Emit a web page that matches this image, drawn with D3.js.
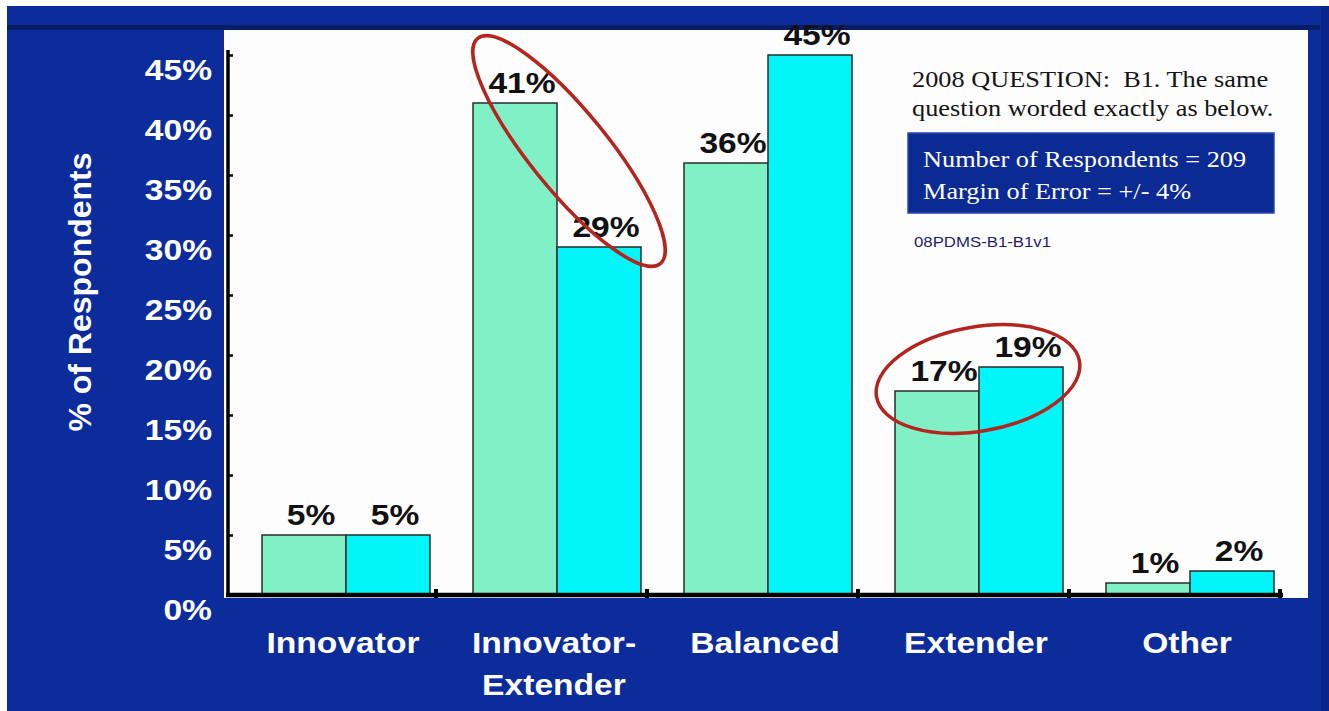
<!DOCTYPE html>
<html>
<head>
<meta charset="utf-8">
<script src="https://cdn.jsdelivr.net/npm/d3@7"></script>
<style>
  html, body { margin: 0; padding: 0; background: #ffffff; overflow: hidden; }
  svg { display: block; }
  text { white-space: pre; }
</style>
</head>
<body>
<svg id="chart" width="1329" height="711"></svg>
<script>
// ---- data -------------------------------------------------------------
const categories = ["Innovator", "Innovator-Extender", "Balanced", "Extender", "Other"];
const categoryLines = [["Innovator"], ["Innovator-", "Extender"], ["Balanced"], ["Extender"], ["Other"]];
const seriesNames = ["previous", "current"];
const previousValues = [5, 41, 36, 17, 1];
const currentValues = [5, 29, 45, 19, 2];
const yTickValues = [0, 5, 10, 15, 20, 25, 30, 35, 40, 45];
const yTickLabels = ["0%", "5%", "10%", "15%", "20%", "25%", "30%", "35%", "40%", "45%"];
const yTitle = "% of Respondents";
const noteLines = ["2008 QUESTION:  B1. The same", "question worded exactly as below."];
const sampleLines = ["Number of Respondents = 209", "Margin of Error = +/- 4%"];
const slideCode = "08PDMS-B1-B1v1";
// highlighted comparisons: centred on a category at a data value
const highlightCategories = ["Innovator-Extender", "Extender"];
const highlightValues = [37, 18];

// ---- layout & style ---------------------------------------------------
const W = 1329, H = 711;
const SX = 1.12;                 // horizontal text stretch of the slide
const panelBlue = "#0c2c9c";
const boxBlue = "#0b2a94";
const greenFill = "#80f0c6";
const cyanFill = "#00f6f8";
const ringColor = "#b3261f";
const sans = "'Liberation Sans', Arial, sans-serif";
const serif = "'Liberation Serif', 'Times New Roman', serif";

const svg = d3.select("#chart");

// background slide
svg.append("rect").attr("x", 0).attr("y", 0).attr("width", W).attr("height", H).attr("fill", "#ffffff");
svg.append("rect").attr("x", 7).attr("y", 6).attr("width", W - 7).attr("height", H - 6).attr("fill", panelBlue);
svg.append("rect").attr("x", 7).attr("y", 25).attr("width", 1313).attr("height", 5)
  .attr("fill", "#06184f").attr("opacity", 0.7);
svg.append("rect").attr("x", 1321).attr("y", 6).attr("width", 8).attr("height", H - 6)
  .attr("fill", "#0a2488");

// plot area
svg.append("rect").attr("x", 224).attr("y", 30).attr("width", 1084).attr("height", 568).attr("fill", "#fdfdfd");

// ---- scales -----------------------------------------------------------
const y = d3.scaleLinear().domain([0, 45]).range([595, 55]);
const xCat = d3.scaleBand().domain(categories).range([225, 1280]).paddingInner(0).paddingOuter(0);
const xSeries = d3.scaleBand().domain(seriesNames).range([37, 205]).padding(0);
const groupCenter = c => xCat(c) + (xSeries.range()[0] + xSeries.range()[1]) / 2;

const rows = [];
categories.forEach((c, i) => {
  rows.push({ category: c, series: "previous", value: previousValues[i], fill: greenFill });
  rows.push({ category: c, series: "current", value: currentValues[i], fill: cyanFill });
});

// ---- bars -------------------------------------------------------------
svg.append("g").selectAll("rect").data(rows).join("rect")
  .attr("x", d => xCat(d.category) + xSeries(d.series))
  .attr("y", d => y(d.value))
  .attr("width", xSeries.bandwidth())
  .attr("height", d => y(0) - y(d.value))
  .attr("fill", d => d.fill)
  .attr("stroke", "#2b2b2b")
  .attr("stroke-width", 1.5);

// value labels
svg.append("g").selectAll("text").data(rows).join("text")
  .text(d => d.value + "%")
  .attr("transform", d => `translate(${xCat(d.category) + xSeries(d.series) + xSeries.bandwidth() / 2 + 7},${y(d.value) - 10}) scale(${SX},1)`)
  .attr("text-anchor", "middle")
  .attr("font-family", sans).attr("font-weight", "bold").attr("font-size", 30)
  .attr("fill", "#111");

// ---- axes -------------------------------------------------------------
const yAxis = d3.axisLeft(y)
  .tickValues(yTickValues)
  .tickFormat((d, i) => yTickLabels[i])
  .tickSizeInner(-5).tickSizeOuter(0).tickPadding(0);
const gy = svg.append("g").attr("transform", "translate(228,0)").call(yAxis);
gy.select(".domain").remove();
gy.selectAll(".tick line").attr("stroke", "#000").attr("stroke-width", 2.5);
gy.selectAll(".tick text")
  .attr("x", null).attr("dy", null)
  .attr("transform", `translate(-16,24) scale(${SX},1)`)
  .attr("text-anchor", "end")
  .attr("font-family", sans).attr("font-weight", "bold").attr("font-size", 30)
  .attr("fill", "#ffffff");

// vertical axis line
svg.append("line")
  .attr("x1", 228).attr("x2", 228)
  .attr("y1", y(45) - 5).attr("y2", y(0) + 2)
  .attr("stroke", "#000").attr("stroke-width", 3.5);

// baseline and category boundary ticks
svg.append("line")
  .attr("x1", 226).attr("x2", xCat.range()[1] + 3)
  .attr("y1", y(0)).attr("y2", y(0))
  .attr("stroke", "#000").attr("stroke-width", 4.5);
svg.append("g").selectAll("rect").data(categories).join("rect")
  .attr("x", c => xCat(c) + xCat.step() - 2)
  .attr("y", y(0) - 6)
  .attr("width", 4).attr("height", 9)
  .attr("fill", "#000");

// category labels
const catG = svg.append("g").selectAll("g").data(categories).join("g");
catG.each(function (c, i) {
  d3.select(this).selectAll("text").data(categoryLines[i]).join("text")
    .text(t => t)
    .attr("transform", (t, j) => `translate(${groupCenter(c) - 3},${653 + j * 42}) scale(${SX},1)`)
    .attr("text-anchor", "middle")
    .attr("font-family", sans).attr("font-weight", "bold").attr("font-size", 30)
    .attr("fill", "#ffffff");
});

// y title
svg.append("text").text(yTitle)
  .attr("transform", "translate(91,292) rotate(-90)")
  .attr("text-anchor", "middle")
  .attr("font-family", sans).attr("font-weight", "bold").attr("font-size", 32)
  .attr("fill", "#ffffff");

// ---- highlight rings ----------------------------------------------------
const ringShapes = [
  { rx: 145, ry: 39, angle: 51, dx: 12 },
  { rx: 103, ry: 52, angle: -10, dx: -1 }
];
svg.append("g").selectAll("ellipse").data(highlightCategories).join("ellipse")
  .attr("cx", 0).attr("cy", 0)
  .attr("rx", (c, i) => ringShapes[i].rx)
  .attr("ry", (c, i) => ringShapes[i].ry)
  .attr("transform", (c, i) => `translate(${groupCenter(c) + ringShapes[i].dx},${y(highlightValues[i])}) rotate(${ringShapes[i].angle})`)
  .attr("fill", "none")
  .attr("stroke", ringColor)
  .attr("stroke-width", 3.5);

// ---- note panel ---------------------------------------------------------
svg.append("g").selectAll("text").data(noteLines).join("text")
  .text(t => t)
  .attr("transform", (t, i) => `translate(912,${87 + i * 29}) scale(${SX},1)`)
  .attr("font-family", serif).attr("font-size", 23.5)
  .attr("fill", "#151515");

svg.append("rect")
  .attr("x", 908).attr("y", 133).attr("width", 366).attr("height", 80)
  .attr("fill", boxBlue)
  .attr("stroke", "#2a47b0").attr("stroke-width", 1.5);

svg.append("g").selectAll("text").data(sampleLines).join("text")
  .text(t => t)
  .attr("transform", (t, i) => `translate(923,${167 + i * 32}) scale(${SX},1)`)
  .attr("font-family", serif).attr("font-size", 23.5)
  .attr("fill", "#ffffff");

svg.append("text").text(slideCode)
  .attr("transform", `translate(914,247) scale(${SX},1)`)
  .attr("font-family", sans).attr("font-size", 15)
  .attr("fill", "#1e1e6e");
</script>
</body>
</html>
